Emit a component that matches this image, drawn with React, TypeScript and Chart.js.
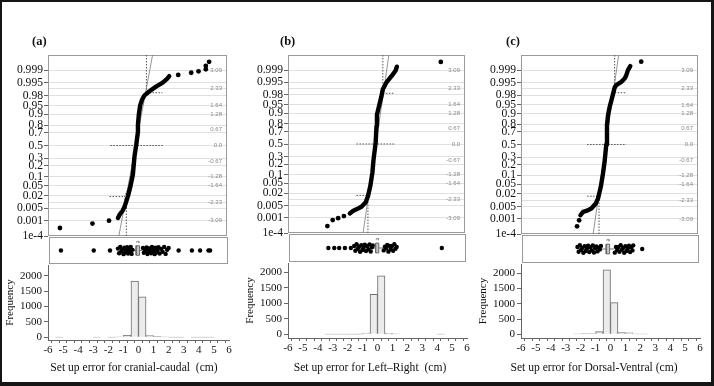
import React, { useEffect, useRef } from 'react';
import { Chart, registerables } from 'chart.js';
Chart.register(...registerables);

const SERIF = '"Liberation Serif", "Times New Roman", serif';
const SANS = '"Liberation Sans", Arial, sans-serif';

// ---------- shared axis definitions ----------
const P_LABELS = ['0.999', '0.995', '0.98', '0.95', '0.9', '0.8', '0.7', '0.5', '0.3', '0.2', '0.1', '0.05', '0.02', '0.005', '0.001', '1e-4'];
const P_Z = [3.09, 2.576, 2.054, 1.645, 1.282, 0.842, 0.524, 0, -0.524, -0.842, -1.282, -1.645, -2.054, -2.576, -3.09, -3.719];
const Z_TICKS = [3.09, 2.33, 1.64, 1.28, 0.67, 0, -0.67, -1.28, -1.64, -2.33, -3.09];
const Z_LABELS = ['3.09', '2.33', '1.64', '1.28', '0.67', '0.0', '-0.67', '-1.28', '-1.64', '-2.33', '-3.09'];
const Z_RANGE = 3.719;
const HIST_X_TICKS = [-6, -5.5, -5, -4.5, -4, -3.5, -3, -2.5, -2, -1.5, -1, -0.5, 0, 0.5, 1, 1.5, 2, 2.5, 3, 3.5, 4, 4.5, 5, 5.5, 6];
const HIST_Y_TICKS = [0, 500, 1000, 1500, 2000];
const JITTER = [0.14, -0.2, 0.27, -0.06, 0.08, -0.27, 0.2, -0.14, 0.02, 0.24, -0.22, 0.12, -0.1, 0.26, -0.25, 0.05, 0.18, -0.17, 0.1, -0.03, 0.22, -0.26, 0.15, -0.09];

// ---------- panel (a) cranial-caudal ----------
const QA_CURVE = [[-1.31, -2.98], [-1.2, -2.84], [-1.0, -2.68], [-0.87, -2.52], [-0.64, -2.08], [-0.47, -1.67], [-0.31, -1.19], [-0.2, -0.44], [-0.09, 0], [0.02, 0.52], [0.03, 0.86], [0.09, 1.28], [0.18, 1.65], [0.31, 1.89], [0.47, 2.06], [0.8, 2.23], [1.24, 2.42], [1.69, 2.58], [1.98, 2.74], [2.13, 2.85]];
const QA_OUT = [[-5.2, -3.39], [-3.02, -3.21], [-1.91, -3.09], [2.73, 2.9], [3.6, 2.99], [4.09, 3.05], [4.58, 3.13], [4.58, 3.27], [4.8, 3.44]];
const QA_REF = [[-1.25, -3.719], [1.01, 3.719]];
const QA_BANDS = [
  [[0.6, 3.719], [0.6, 2.17], [0.42, 1.95], [0.22, 1.6], [0.08, 1.1], [-0.05, 0.4]],
  [[0.6, 2.17], [1.67, 2.17]],
  [[-0.75, -3.719], [-0.75, -2.55], [-0.87, -2.1], [-0.65, -1.8], [-0.45, -1.2], [-0.28, -0.5]],
  [[-1.87, -2.1], [-0.87, -2.1]],
  [[-1.82, 0], [1.73, 0]],
];
const BA_CLUSTER = [-1.38, -1.3, -1.22, -1.15, -1.08, -1.0, -0.94, -0.88, -0.82, -0.76, -0.7, -0.64, -0.58, -0.52, -0.46, -0.4, 0.3, 0.36, 0.42, 0.48, 0.54, 0.6, 0.66, 0.72, 0.78, 0.84, 0.9, 0.96, 1.02, 1.08, 1.14, 1.2, 1.26, 1.34, 1.42, 1.52, 1.62, 1.72, 1.82, 1.92, 2.02];
const BA_SPARSE = [-5.2, -3.0, -1.91, 2.69, 3.58, 4.13, 4.69, 4.8];
const BA_STATS = [-0.33, -0.16, -0.05, 0.07, 0.25]; // low whisker, q1, median, q3, high whisker
const BA_HALF = [-0.12, 0.02];
const HA_BINS = [-5.25, -2.75, -1.75, -1.25, -0.75, -0.25, 0.25, 0.75, 1.25, 1.75, 2.25, 2.75, 3.75, 4.25, 4.75];
const HA_COUNTS = [4, 4, 5, 8, 60, 1825, 1310, 55, 30, 10, 4, 3, 3, 3, 4];

// ---------- panel (b) left-right ----------
const QB_CURVE = [[-1.81, -2.9], [-1.6, -2.8], [-1.36, -2.73], [-1.02, -2.62], [-0.73, -2.43], [-0.58, -2.18], [-0.42, -1.76], [-0.28, -1.2], [-0.2, -0.65], [-0.06, 0.04], [0.0, 0.75], [0.03, 1.22], [0.16, 1.56], [0.33, 1.98], [0.43, 2.29], [0.66, 2.56], [0.89, 2.74], [1.07, 2.88], [1.29, 3.06], [1.38, 3.23]];
const QB_OUT = [[-3.33, -3.43], [-2.97, -3.18], [-2.6, -3.1], [-2.21, -3.01], [4.36, 3.43]];
const QB_REF = [[-0.91, -3.719], [0.84, 3.719]];
const QB_BANDS = [
  [[0.43, 3.719], [0.43, 2.12], [0.3, 1.85], [0.15, 1.4], [0.04, 0.8], [-0.05, 0.2]],
  [[0.43, 2.12], [1.22, 2.12]],
  [[-0.58, -3.719], [-0.58, -2.15], [-0.45, -1.8], [-0.3, -1.2], [-0.15, -0.5]],
  [[-1.36, -2.15], [-0.58, -2.15]],
  [[-1.36, 0], [1.29, 0]],
];
const BB_CLUSTER = [-1.58, -1.5, -1.42, -1.34, -1.26, -1.18, -1.1, -1.02, -0.94, -0.86, -0.78, -0.7, -0.62, -0.54, -0.46, -0.38, -0.32, 0.42, 0.5, 0.58, 0.66, 0.74, 0.82, 0.9, 0.98, 1.06, 1.14, 1.22, 1.3];
const BB_SPARSE = [-3.33, -2.93, -2.6, -2.21, -1.81, 4.36];
const BB_STATS = [-0.32, -0.13, -0.02, 0.09, 0.39];
const BB_HALF = [-0.08, 0.06];
const HB_BINS = [-3.25, -2.75, -2.25, -1.75, -1.25, -0.75, -0.25, 0.25, 0.75, 1.25, 4.25];
const HB_COUNTS = [3, 4, 4, 5, 8, 40, 1290, 1885, 35, 10, 3];

// ---------- panel (c) dorsal-ventral ----------
const QC_CURVE = [[-1.97, -2.94], [-1.79, -2.8], [-1.57, -2.76], [-1.23, -2.66], [-0.93, -2.45], [-0.78, -2.25], [-0.59, -1.76], [-0.44, -1.2], [-0.32, -0.65], [-0.22, 0], [-0.17, 0.46], [-0.17, 0.8], [-0.1, 1.22], [0.01, 1.56], [0.19, 1.98], [0.35, 2.37], [0.46, 2.47], [0.8, 2.6], [1.03, 2.74], [1.14, 2.88], [1.25, 3.09], [1.41, 3.26]];
const QC_OUT = [[-2.2, -3.4], [-2.06, -3.15], [2.15, 3.44]];
const QC_REF = [[-1.11, -3.719], [0.62, 3.719]];
const QC_BANDS = [
  [[0.35, 3.719], [0.35, 2.15], [0.2, 1.85], [0.05, 1.4], [-0.08, 0.8], [-0.18, 0.2]],
  [[0.35, 2.15], [1.14, 2.15]],
  [[-0.71, -3.719], [-0.71, -2.15], [-0.58, -1.8], [-0.44, -1.2], [-0.3, -0.5]],
  [[-1.52, -2.15], [-0.71, -2.15]],
  [[-1.52, 0], [1.14, 0]],
];
const BC_CLUSTER = [-2.24, -2.16, -2.08, -2.0, -1.92, -1.84, -1.76, -1.68, -1.6, -1.52, -1.44, -1.36, -1.28, -1.2, -1.12, -1.04, -0.96, -0.88, -0.8, -0.72, -0.65, 0.29, 0.37, 0.45, 0.53, 0.61, 0.69, 0.77, 0.85, 0.93, 1.01, 1.09, 1.17, 1.25, 1.33, 1.41, 1.49, 1.54];
const BC_SPARSE = [2.15];
const BC_STATS = [-0.62, -0.29, -0.18, -0.06, 0.24];
const BC_HALF = [-0.24, -0.1];
const HC_BINS = [-2.25, -1.75, -1.25, -0.75, -0.25, 0.25, 0.75, 1.25, 1.75, 2.25];
const HC_COUNTS = [15, 20, 20, 90, 2110, 1040, 55, 50, 15, 15];

// ---------- layout (pixels) ----------
const PANELS = [
  { label: '(a)', labelX: 32, title: 'Set up error for cranial-caudal  (cm)', titleCx: 134, L: 48, R: 229, qTop: 55, qBot: 236, bBot: 265, hAxis: 340, hMin: -88, hMax: 2347,
    curve: QA_CURVE, out: QA_OUT, ref: QA_REF, bands: QA_BANDS, cluster: BA_CLUSTER, sparse: BA_SPARSE, stats: BA_STATS, half: BA_HALF, bins: HA_BINS, counts: HA_COUNTS },
  { label: '(b)', labelX: 280, title: 'Set up error for Left\u2013Right  (cm)', titleCx: 370, L: 288, R: 467, qTop: 55, qBot: 233, bBot: 263, hAxis: 338, hMin: -119, hMax: 2300,
    curve: QB_CURVE, out: QB_OUT, ref: QB_REF, bands: QB_BANDS, cluster: BB_CLUSTER, sparse: BB_SPARSE, stats: BB_STATS, half: BB_HALF, bins: HB_BINS, counts: HB_COUNTS },
  { label: '(c)', labelX: 506, title: 'Set up error for Dorsal-Ventral (cm)', titleCx: 594, L: 521, R: 700, qTop: 55, qBot: 234, bBot: 264, hAxis: 338, hMin: -121, hMax: 2305,
    curve: QC_CURVE, out: QC_OUT, ref: QC_REF, bands: QC_BANDS, cluster: BC_CLUSTER, sparse: BC_SPARSE, stats: BC_STATS, half: BC_HALF, bins: HC_BINS, counts: HC_COUNTS },
];

const Q_AXW = 40;
const PADV = 10;
const H_AXW = 44;
const H_XH = 22;

function qRect(p: any) {
  return { left: p.L - Q_AXW, top: p.qTop - PADV, width: Q_AXW + (p.R - p.L) + 2, height: p.qBot - p.qTop + 2 * PADV };
}
function bRect(p: any) {
  return { left: p.L - 3, top: p.qBot - 3, width: p.R - p.L + 6, height: p.bBot - p.qBot + 6 };
}
function hRect(p: any) {
  return { left: p.L - H_AXW, top: p.bBot - 12, width: H_AXW + (p.R - p.L) + 8, height: 12 + (p.hAxis - p.bBot) + H_XH + 2 };
}

const toXY = (arr: number[][]) => arr.map(([x, y]) => ({ x, y }));

const framePlugin = {
  id: 'frame',
  beforeDatasetsDraw(chart: any) {
    const { ctx, chartArea: a } = chart;
    ctx.save();
    ctx.strokeStyle = '#9a9a9a';
    ctx.lineWidth = 1;
    ctx.strokeRect(Math.round(a.left) + 0.5, Math.round(a.top) + 0.5, Math.round(a.right - a.left) - 1, Math.round(a.bottom - a.top) - 1);
    ctx.restore();
  },
};

const baseOpts = {
  responsive: false,
  maintainAspectRatio: false,
  animation: false,
  devicePixelRatio: 1,
  events: [],
  plugins: { legend: { display: false }, tooltip: { enabled: false } },
};

function quantileConfig(p: any): any {
  const datasets: any[] = [
    { data: toXY(p.curve), showLine: true, pointRadius: 0, borderColor: '#000', borderWidth: 4.4, borderCapStyle: 'round', borderJoinStyle: 'round' },
    { data: toXY(p.out), showLine: false, pointRadius: 2.4, pointBackgroundColor: '#000', pointBorderWidth: 0 },
    { data: toXY(p.ref), showLine: true, pointRadius: 0, borderColor: '#7a7a7a', borderWidth: 0.8 },
    ...p.bands.map((b: number[][]) => ({ data: toXY(b), showLine: true, pointRadius: 0, borderColor: '#555', borderWidth: 1, borderDash: [1.5, 1.5] })),
  ];
  return {
    type: 'scatter',
    data: { datasets },
    options: {
      ...baseOpts,
      layout: { padding: { left: 0, right: 2, top: PADV, bottom: PADV } },
      scales: {
        x: { type: 'linear', min: -6, max: 6, display: false },
        y: {
          type: 'linear', position: 'left', min: -Z_RANGE, max: Z_RANGE,
          afterBuildTicks: (s: any) => { s.ticks = P_Z.map((v) => ({ value: v })); },
          afterFit: (s: any) => { s.width = Q_AXW; },
          ticks: { autoSkip: false, callback: (_v: any, i: number) => P_LABELS[i], font: { family: SERIF, size: 11.6 }, color: '#111', padding: 1 },
          grid: { color: (c: any) => (c.index === P_Z.length - 1 ? 'transparent' : '#e0e0e0'), tickColor: '#666', tickLength: 4 },
          border: { display: false },
        },
        y2: {
          type: 'linear', position: 'right', min: -Z_RANGE, max: Z_RANGE,
          afterBuildTicks: (s: any) => { s.ticks = Z_TICKS.map((v) => ({ value: v })); },
          afterFit: (s: any) => { s.width = 0; },
          ticks: { mirror: true, autoSkip: false, callback: (_v: any, i: number) => Z_LABELS[i], font: { family: SANS, size: 6 }, color: '#888', padding: -5 },
          grid: { drawTicks: false, color: (c: any) => (c.tick && Math.abs(Math.abs(c.tick.value) - 2.33) < 0.01 ? '#e0e0e0' : 'transparent') },
          border: { display: false },
        },
      },
    },
    plugins: [framePlugin],
  };
}

function boxConfig(p: any): any {
  const [lw, q1, med, q3, hw] = p.stats;
  const h = 0.35;
  const datasets: any[] = [
    { data: p.cluster.map((x: number, i: number) => ({ x, y: JITTER[i % JITTER.length] })), showLine: false, pointRadius: 2.2, pointBackgroundColor: '#000', pointBorderWidth: 0 },
    { data: p.sparse.map((x: number) => ({ x, y: 0 })), showLine: false, pointRadius: 2.2, pointBackgroundColor: '#000', pointBorderWidth: 0 },
    { data: toXY([[q1, -h], [q3, -h], [q3, h], [q1, h], [q1, -h]]), showLine: true, pointRadius: 0, borderColor: '#6a6a6a', borderWidth: 1, backgroundColor: '#c4c4c4', fill: 'shape' },
    { data: toXY([[med, -h], [med, h]]), showLine: true, pointRadius: 0, borderColor: '#555', borderWidth: 1 },
    { data: toXY([[lw, 0], [q1, 0]]), showLine: true, pointRadius: 0, borderColor: '#777', borderWidth: 1 },
    { data: toXY([[q3, 0], [hw, 0]]), showLine: true, pointRadius: 0, borderColor: '#777', borderWidth: 1 },
    { data: toXY([[p.half[0], 0.56], [p.half[0], 0.68], [p.half[1], 0.68], [p.half[1], 0.56]]), showLine: true, pointRadius: 0, borderColor: '#888', borderWidth: 0.8 },
  ];
  return {
    type: 'scatter',
    data: { datasets },
    options: {
      ...baseOpts,
      layout: { padding: 3 },
      scales: {
        x: { type: 'linear', min: -6, max: 6, display: false },
        y: { type: 'linear', min: -1, max: 1, display: false },
      },
    },
    plugins: [framePlugin],
  };
}

function histConfig(p: any): any {
  return {
    type: 'bar',
    data: {
      datasets: [{
        data: p.bins.map((x: number, i: number) => ({ x, y: p.counts[i] })),
        backgroundColor: '#ececec', borderColor: '#6c6c6c', borderWidth: 1,
        barPercentage: 1, categoryPercentage: 1,
      }],
    },
    options: {
      ...baseOpts,
      layout: { padding: { left: 0, right: 8, top: 12, bottom: 2 } },
      scales: {
        x: {
          type: 'linear', min: -6, max: 6, offset: false,
          afterBuildTicks: (s: any) => { s.ticks = HIST_X_TICKS.map((v) => ({ value: v })); },
          afterFit: (s: any) => { s.height = H_XH; },
          ticks: { autoSkip: false, maxRotation: 0, minRotation: 0, callback: (v: any) => (Number.isInteger(v) ? String(v) : ''), font: { family: SERIF, size: 11 }, color: '#111', padding: 1 },
          grid: { drawOnChartArea: false, tickLength: 3, tickColor: '#666' },
          border: { color: '#666' },
        },
        y: {
          type: 'linear', min: p.hMin, max: p.hMax,
          afterBuildTicks: (s: any) => { s.ticks = HIST_Y_TICKS.map((v) => ({ value: v })); },
          afterFit: (s: any) => { s.width = H_AXW; },
          ticks: { autoSkip: false, callback: (v: any) => String(v), font: { family: SERIF, size: 11 }, color: '#111', padding: 2 },
          grid: { drawOnChartArea: false, tickLength: 4, tickColor: '#666' },
          border: { color: '#666' },
          title: { display: true, text: 'Frequency', font: { family: SERIF, size: 11 }, color: '#111', padding: { top: 0, bottom: 0 } },
        },
      },
    },
  };
}

export default function App() {
  const refs = useRef<(HTMLCanvasElement | null)[]>([]);

  useEffect(() => {
    document.body.style.margin = '0';
    const charts: Chart[] = [];
    PANELS.forEach((p, i) => {
      const q = refs.current[i * 3];
      const b = refs.current[i * 3 + 1];
      const h = refs.current[i * 3 + 2];
      if (q) charts.push(new Chart(q, quantileConfig(p)));
      if (b) charts.push(new Chart(b, boxConfig(p)));
      if (h) charts.push(new Chart(h, histConfig(p)));
    });
    return () => charts.forEach((c) => c.destroy());
  }, []);

  const canvasEl = (r: any, idx: number) => (
    <canvas
      key={idx}
      ref={(el) => { refs.current[idx] = el; }}
      width={r.width}
      height={r.height}
      style={{ position: 'absolute', left: r.left, top: r.top, width: r.width, height: r.height }}
    />
  );

  return (
    <div style={{ position: 'fixed', left: 0, top: 0, width: 714, height: 386, background: '#fff', overflow: 'hidden' }}>
      <div style={{ position: 'absolute', left: 0, top: 0, width: 714, height: 386, boxSizing: 'border-box', borderStyle: 'solid', borderColor: '#151515', borderWidth: '2px 3px 4px 2px' }} />
      {PANELS.map((p, i) => (
        <React.Fragment key={p.label}>
          {canvasEl(qRect(p), i * 3)}
          {canvasEl(bRect(p), i * 3 + 1)}
          {canvasEl(hRect(p), i * 3 + 2)}
          <div style={{ position: 'absolute', left: p.labelX, top: 34, fontFamily: SERIF, fontWeight: 'bold', fontSize: 12.5, lineHeight: '15px', color: '#111' }}>{p.label}</div>
          <div style={{ position: 'absolute', left: p.titleCx, top: 361, transform: 'translateX(-50%)', fontFamily: SERIF, fontSize: 11.6, lineHeight: '14px', color: '#111', whiteSpace: 'pre' }}>{p.title}</div>
        </React.Fragment>
      ))}
    </div>
  );
}
